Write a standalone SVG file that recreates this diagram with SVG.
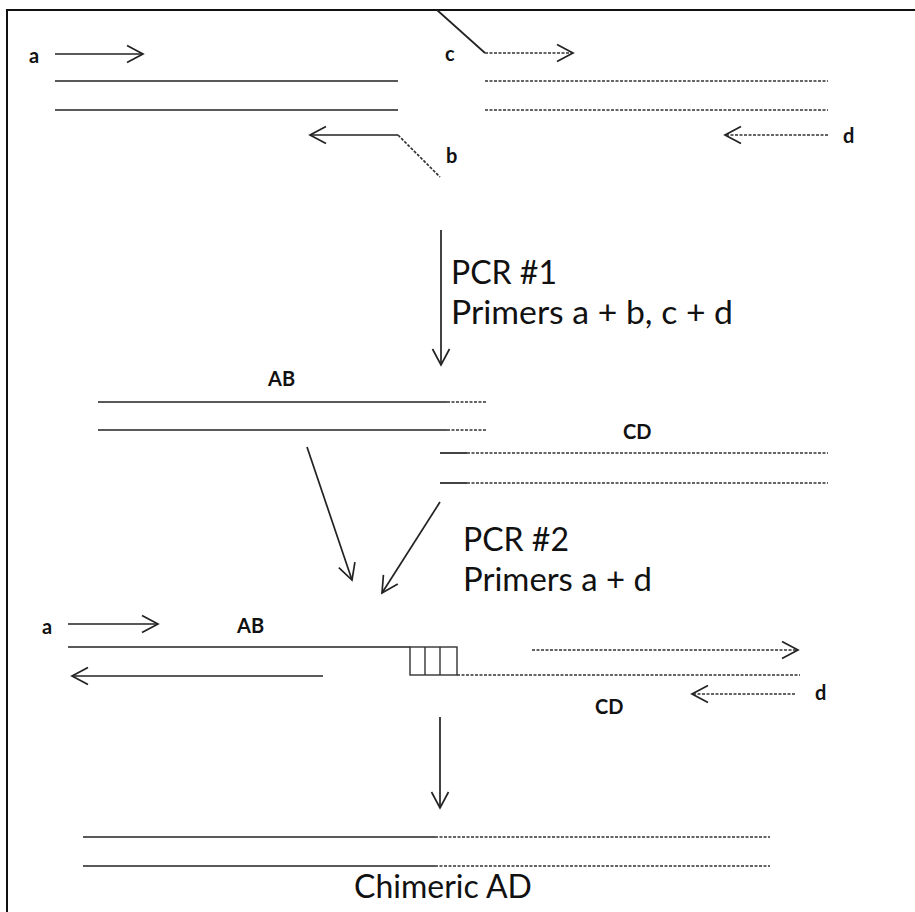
<svg xmlns="http://www.w3.org/2000/svg" width="915" height="912" viewBox="0 0 915 912">
<style>
.s{stroke:#222;stroke-width:1.7;fill:none}
.d{stroke:#333;stroke-width:1.7;fill:none;stroke-dasharray:3,1.5}
.lb{font-family:Lato,"Liberation Sans",sans-serif;font-weight:bold;font-size:20px;fill:#111}
.big{font-family:Lato,"Liberation Sans",sans-serif;font-size:32px;fill:#111}
</style>
<defs>
<marker id="ah" viewBox="0 0 20 20" refX="17" refY="10" markerWidth="20" markerHeight="20" markerUnits="userSpaceOnUse" orient="auto">
<path d="M1,1.5 L17,10 L1,18.5" fill="none" stroke="#222" stroke-width="1.7"/>
</marker>
</defs>
<rect width="915" height="912" fill="#fff"/>
<path d="M7,912 V10 H915" stroke="#111" stroke-width="2" fill="none"/>

<g id="template-AB">
<line class="s" x1="55" y1="81" x2="398" y2="81"/>
<line class="s" x1="55" y1="110" x2="398" y2="110"/>
</g>
<g id="template-CD">
<line class="d" x1="485" y1="81" x2="828" y2="81"/>
<line class="d" x1="485" y1="110" x2="828" y2="110"/>
</g>
<g id="primer-a">
<text class="lb" x="29" y="63">a</text>
<line class="s" x1="55" y1="54" x2="143" y2="54" marker-end="url(#ah)"/>
</g>
<g id="primer-b">
<path class="s" d="M398,135 H310" marker-end="url(#ah)"/>
<line class="d" x1="398" y1="135" x2="440" y2="177"/>
<text class="lb" x="446" y="163">b</text>
</g>
<g id="primer-c">
<line class="s" x1="437" y1="10" x2="485" y2="53"/>
<path class="d" d="M485,53 H573" marker-end="url(#ah)"/>
<text class="lb" x="445" y="61">c</text>
</g>
<g id="primer-d">
<path class="d" d="M828,135 H725" marker-end="url(#ah)"/>
<text class="lb" x="843" y="143">d</text>
</g>

<g id="pcr1-label">
<text class="big" x="451" y="284">PCR #1</text>
<text class="big" x="451" y="324" textLength="282" lengthAdjust="spacingAndGlyphs">Primers a + b, c + d</text>
</g>

<g id="product-AB">
<text class="lb" x="268" y="386">AB</text>
<line class="s" x1="98" y1="402" x2="447" y2="402"/>
<line class="d" x1="447" y1="402" x2="487" y2="402"/>
<line class="s" x1="98" y1="430" x2="447" y2="430"/>
<line class="d" x1="447" y1="430" x2="487" y2="430"/>
</g>
<g id="product-CD">
<text class="lb" x="623" y="439">CD</text>
<line class="s" x1="440" y1="453" x2="467" y2="453"/>
<line class="d" x1="467" y1="453" x2="828" y2="453"/>
<line class="s" x1="440" y1="483" x2="467" y2="483"/>
<line class="d" x1="467" y1="483" x2="828" y2="483"/>
</g>

<g id="pcr2-label">
<text class="big" x="463" y="551">PCR #2</text>
<text class="big" x="463" y="591" textLength="189" lengthAdjust="spacingAndGlyphs">Primers a + d</text>
</g>

<g id="annealed">
<text class="lb" x="42" y="634">a</text>
<line class="s" x1="68" y1="624" x2="158" y2="624" marker-end="url(#ah)"/>
<text class="lb" x="237" y="633">AB</text>
<line class="s" x1="68" y1="647" x2="410" y2="647"/>
<path class="s" d="M323,676 H72" marker-end="url(#ah)"/>
<rect x="410" y="647" width="47" height="28" fill="none" stroke="#333" stroke-width="1.4"/>
<line x1="425" y1="647" x2="425" y2="675" stroke="#333" stroke-width="1.4"/>
<line x1="440" y1="647" x2="440" y2="675" stroke="#333" stroke-width="1.4"/>
<line class="d" x1="457" y1="675" x2="800" y2="675"/>
<path class="d" d="M532,650 H798" marker-end="url(#ah)"/>
<path class="d" d="M795,694 H692" marker-end="url(#ah)"/>
<text class="lb" x="815" y="700">d</text>
<text class="lb" x="595" y="714">CD</text>
</g>

<g id="chimeric-AD">
<line class="s" x1="83" y1="837" x2="435" y2="837"/>
<line class="d" x1="435" y1="837" x2="770" y2="837"/>
<line class="s" x1="83" y1="866" x2="435" y2="866"/>
<line class="d" x1="435" y1="866" x2="770" y2="866"/>
<text class="big" x="443" y="898" text-anchor="middle" font-size="23.5">Chimeric AD</text>
</g>

<g id="connectors">
<line class="s" x1="441" y1="230" x2="441" y2="365" marker-end="url(#ah)"/>
<line class="s" x1="307" y1="447" x2="352" y2="580" marker-end="url(#ah)"/>
<line class="s" x1="440" y1="502" x2="382" y2="593" marker-end="url(#ah)"/>
<line class="s" x1="440" y1="717" x2="440" y2="808" marker-end="url(#ah)"/>
</g>
</svg>
